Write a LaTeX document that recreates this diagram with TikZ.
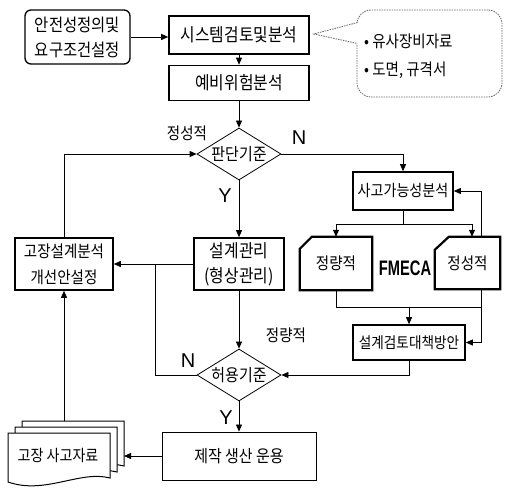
\documentclass[tikz,border=0pt]{standalone}
\usepackage{fontspec}
\setmainfont{Liberation Sans}
\newfontfamily\kr[FakeStretch=0.88]{Noto Sans CJK KR}
\usetikzlibrary{shapes.geometric,arrows.meta,calc}
\begin{document}
\begin{tikzpicture}[x=1pt,y=-1pt,
  box/.style={draw,line width=1.6pt,inner sep=0pt,align=center,font=\kr\fontsize{18}{25}\selectfont},
  thinbox/.style={draw,line width=0.9pt,inner sep=0pt,align=center,font=\kr\fontsize{17}{25}\selectfont},
  dec/.style={diamond,draw,line width=0.8pt,inner sep=-2pt,aspect=1.6,minimum width=84pt,minimum height=52pt,font=\kr\fontsize{17}{18}\selectfont},
  conn/.style={line width=0.8pt},
  arr/.style={conn,-{Triangle[length=7pt,width=6pt]}},
  lab/.style={font=\kr\fontsize{16.5}{18}\selectfont},
  yn/.style={font=\fontsize{20}{22}\selectfont},
  notestyle/.style={draw=black!60,line width=0.8pt,dash pattern=on 1.5pt off 1pt},
  chamf/.style={line width=2.2pt,fill=white},
  page/.style={draw,line width=1pt,fill=white}
]
\useasboundingbox (0,0) rectangle (508,489);

% top row
\node[thinbox,rounded corners=6pt,line width=1.3pt,minimum width=105pt,minimum height=54pt,font=\kr\fontsize{17.5}{25}\selectfont] (req) at (77.5,37) {안전성정의및\\요구조건설정};
\node[box,minimum width=140pt,minimum height=38pt] (sys) at (239,35) {시스템검토및분석};
\node[box,minimum width=140pt,minimum height=35pt] (pha) at (239,83) {예비위험분석};

% callout
\node[notestyle,rounded corners=14pt,minimum width=145pt,minimum height=87pt] (note) at (429.5,53.5) {};
\node[anchor=west,align=left,inner sep=0pt,font=\kr\fontsize{16.5}{28}\selectfont] (notetext) at (364,56) {• 유사장비자료\\• 도면, 규격서};
\coordinate (tip) at ($(sys.east)+(4,-1)$);
\coordinate (t1) at ($(note.west)+(1,-31)$);
\coordinate (t2) at ($(note.west)+(1,-10)$);
\fill[white] ($(t1)+(2,-1.5)$) -- (tip) -- ($(t2)+(2,1.5)$) -- cycle;
\draw[notestyle] (t1) -- (tip) -- (t2);

% decisions and boxes
\node[dec] (d1) at (239,154) {판단기준};
\node[box,minimum width=98pt,minimum height=52pt,font=\kr\fontsize{16.5}{26}\selectfont] (fail) at (64,264) {고장설계분석\\개선안설정};
\node[box,minimum width=90pt,minimum height=52pt] (dm) at (239,264) {설계관리\\(형상관리)};
\node[box,minimum width=100pt,minimum height=38pt,font=\kr\fontsize{16}{18}\selectfont] (acc) at (403,191) {사고가능성분석};

% FMECA shapes
\node[inner sep=0pt,minimum width=72pt,minimum height=53pt] (ql) at (336,263.5) {};
\draw[chamf] ([yshift=-12pt]ql.north west) -- ([xshift=12pt]ql.north west) -- (ql.north east) -- (ql.south east) -- (ql.south west) -- cycle;
\node[inner sep=0pt,font=\kr\fontsize{16.5}{18}\selectfont] (qltext) at (ql) {정량적};
\node[inner sep=0pt,minimum width=65pt,minimum height=52pt] (qr) at (467.5,263) {};
\draw[chamf] ([yshift=-13pt]qr.north west) -- ([xshift=14pt]qr.north west) -- (qr.north east) -- (qr.south east) -- (qr.south west) -- cycle;
\node[inner sep=0pt,font=\kr\fontsize{16.5}{18}\selectfont] (qrtext) at (qr) {정성적};
\node[inner sep=0pt,font=\fontsize{21}{22}\selectfont\bfseries,xscale=0.7] (fm) at (405,268) {FMECA};

\node[box,minimum width=112pt,minimum height=35pt,font=\kr\fontsize{15.5}{18}\selectfont] (ctm) at (409,342.5) {설계검토대책방안};
\node[dec] (d2) at (239,375) {허용기준};
\node[thinbox,minimum width=154pt,minimum height=48pt] (prod) at (239,456) {제작 생산 운용};

% document stack
\draw[page] (22,421) -- (124,421) -- (124,466) .. controls (94,458) and (59,483) .. (22,470) -- cycle;
\draw[page] (15,427) -- (117,427) -- (117,472) .. controls (87,464) and (52,489) .. (15,476) -- cycle;
\draw[page] (8,433) -- (110,433) -- (110,478) .. controls (80,470) and (45,495) .. (8,482) -- cycle;
\node[inner sep=0pt,font=\kr\fontsize{16}{18}\selectfont] (doc) at (58,456) {고장 사고자료};
\coordinate (dtop) at (64,421);
\coordinate (dright) at (124,456);

% connectors
\draw[arr] (req.east) -- (req.east -| sys.west);
\draw[arr] (sys) -- (pha);
\draw[arr] (pha) -- (d1);
\draw[arr] (d1.east) -| (acc.north);
\draw[arr] (d1.south) -- (dm.north);
\draw[arr] (fail.north) |- (d1.west);
\draw[arr] (dm.west) -- (fail.east);
\coordinate (j1) at (155,264);
\draw[conn] (d2.west) -| (j1);
\draw[arr] (dm.south) -- (d2.north);
\coordinate (sp) at (403,224);
\draw[conn] (acc.south) -- (sp);
\draw[arr] (sp) -| (ql.north);
\draw[arr] (sp) -| ([xshift=4.5pt]qr.north);
\draw[arr] ([xshift=13.5pt]qr.north) |- (acc.east);
\coordinate (mg) at (409,307);
\coordinate (qb) at ([xshift=13.5pt]qr.south);
\draw[conn] (ql.south) |- (qb |- mg);
\draw[arr] (qb) |- (ctm.east);
\draw[arr] (ctm.north |- mg) -- (ctm.north);
\draw[arr] (ctm.south) |- (d2.east);
\draw[arr] (d2.south) -- (prod.north);
\draw[arr] (prod.west) -- (dright);
\draw[arr] (dtop) -- (fail.south);

% labels
\node[yn] (n1) at (299,138) {N};
\node[yn] (y1) at (225,196) {Y};
\node[lab] (l1) at (187,133) {정성적};
\node[yn] (n2) at (188,361) {N};
\node[lab] (l2) at (286,335) {정량적};
\node[yn] (y2) at (226,418) {Y};
\end{tikzpicture}
\end{document}
